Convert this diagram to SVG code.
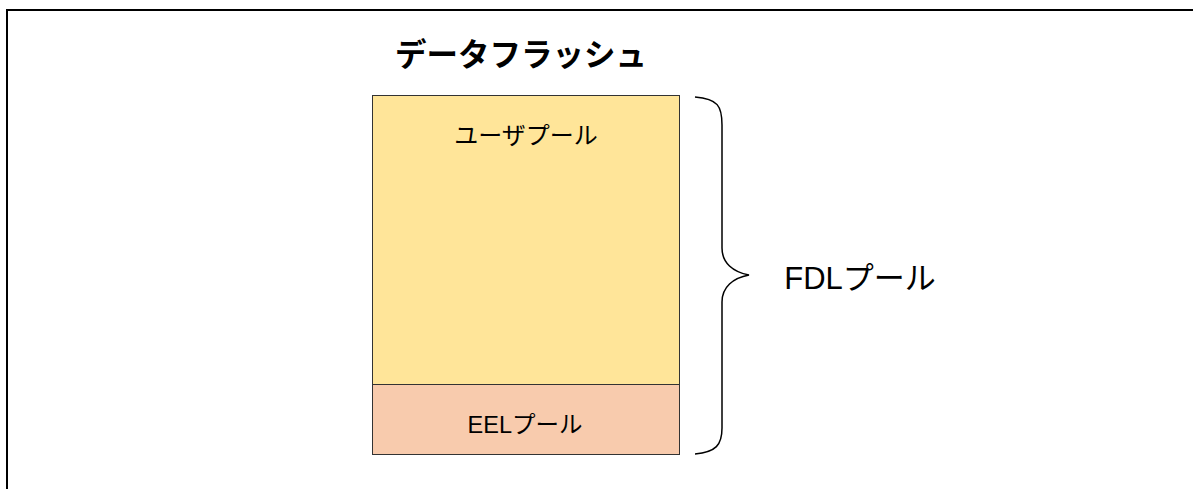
<svg xmlns="http://www.w3.org/2000/svg" width="1193" height="489" viewBox="0 0 1193 489">
<style>
.t{font-family:"Liberation Sans","Noto Sans CJK JP",sans-serif;fill:#000;text-anchor:middle}
.box{stroke:#333;stroke-width:1}
</style>
<rect x="0" y="0" width="1193" height="489" fill="#fff"/>
<g id="frame"><rect x="7" y="10" width="1200" height="500" fill="none" stroke="#000" stroke-width="2"/></g>
<g id="title"><text class="t" x="521" y="66" font-size="31.5" font-weight="bold">データフラッシュ</text></g>
<g id="user-pool"><rect class="box" x="372.5" y="95.5" width="307" height="289" fill="#FFE599"/>
<text class="t" x="526" y="144" font-size="24">ユーザプール</text></g>
<g id="eel-pool"><rect class="box" x="372.5" y="384.5" width="307" height="70" fill="#F8CBAD"/>
<text class="t" x="525" y="433" font-size="23.5">EELプール</text></g>
<g id="connectors"><path d="M695 97 C718 99 722 106 722 125 L722 248 C722 263 733 272 749 275 C733 278 722 287 722 302 L722 428 C722 445 716 452 695 454" fill="none" stroke="#000" stroke-width="1.5"/></g>
<g id="fdl-label"><text class="t" x="860" y="289" font-size="31">FDLプール</text></g>
</svg>
